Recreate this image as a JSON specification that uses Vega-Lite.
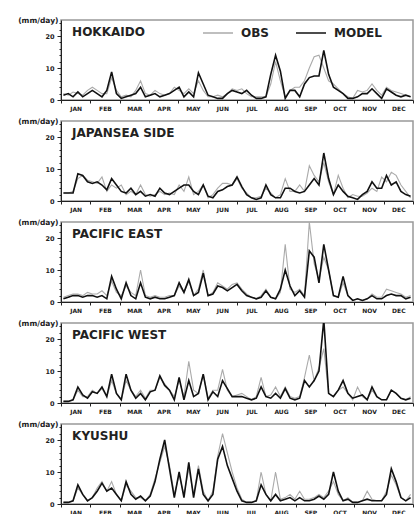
{
"$schema": "https://vega.github.io/schema/vega-lite/v6.json",
"padding": {"left": 16, "top": 15, "right": 0, "bottom": 0},
"background": "white",
"config": {
 "view": {"stroke": "#999999", "strokeWidth": 1.5},
 "axis": {"labelFont": "DejaVu Sans", "labelFontWeight": "bold", "labelColor": "#222222", "domainColor": "#222222", "tickColor": "#222222", "grid": false, "titleFont": "DejaVu Sans", "titleFontWeight": "bold", "titleColor": "#222222"},
 "line": {"clip": true}
},
"datasets": {
"months": [{"m":"JAN"},{"m":"FEB"},{"m":"MAR"},{"m":"APR"},{"m":"MAY"},{"m":"JUN"},{"m":"JUL"},{"m":"AUG"},{"m":"SEP"},{"m":"OCT"},{"m":"NOV"},{"m":"DEC"}],
"d": [
{"r":"HOKKAIDO","p":1,"OBS":2,"MODEL":1.5},{"r":"HOKKAIDO","p":2,"OBS":1.5,"MODEL":2},{"r":"HOKKAIDO","p":3,"OBS":2.5,"MODEL":1},{"r":"HOKKAIDO","p":4,"OBS":2,"MODEL":2.5},{"r":"HOKKAIDO","p":5,"OBS":1.5,"MODEL":1},{"r":"HOKKAIDO","p":6,"OBS":3,"MODEL":2},{"r":"HOKKAIDO","p":7,"OBS":4,"MODEL":3},{"r":"HOKKAIDO","p":8,"OBS":3,"MODEL":2},{"r":"HOKKAIDO","p":9,"OBS":2,"MODEL":1},{"r":"HOKKAIDO","p":10,"OBS":2,"MODEL":3},{"r":"HOKKAIDO","p":11,"OBS":7,"MODEL":8.8},{"r":"HOKKAIDO","p":12,"OBS":3,"MODEL":2},{"r":"HOKKAIDO","p":13,"OBS":1,"MODEL":0.5},{"r":"HOKKAIDO","p":14,"OBS":1.5,"MODEL":1},{"r":"HOKKAIDO","p":15,"OBS":1,"MODEL":1.5},{"r":"HOKKAIDO","p":16,"OBS":3,"MODEL":2},{"r":"HOKKAIDO","p":17,"OBS":6,"MODEL":4},{"r":"HOKKAIDO","p":18,"OBS":2,"MODEL":1},{"r":"HOKKAIDO","p":19,"OBS":1.5,"MODEL":1.5},{"r":"HOKKAIDO","p":20,"OBS":3,"MODEL":2},{"r":"HOKKAIDO","p":21,"OBS":2,"MODEL":1},{"r":"HOKKAIDO","p":22,"OBS":1.5,"MODEL":1.5},{"r":"HOKKAIDO","p":23,"OBS":2,"MODEL":2},{"r":"HOKKAIDO","p":24,"OBS":4,"MODEL":3},{"r":"HOKKAIDO","p":25,"OBS":3,"MODEL":4},{"r":"HOKKAIDO","p":26,"OBS":2,"MODEL":1},{"r":"HOKKAIDO","p":27,"OBS":3.5,"MODEL":2.5},{"r":"HOKKAIDO","p":28,"OBS":2,"MODEL":1},{"r":"HOKKAIDO","p":29,"OBS":6,"MODEL":8.5},{"r":"HOKKAIDO","p":30,"OBS":3,"MODEL":5},{"r":"HOKKAIDO","p":31,"OBS":1,"MODEL":1.5},{"r":"HOKKAIDO","p":32,"OBS":1,"MODEL":1},{"r":"HOKKAIDO","p":33,"OBS":1.5,"MODEL":0.5},{"r":"HOKKAIDO","p":34,"OBS":1,"MODEL":0.5},{"r":"HOKKAIDO","p":35,"OBS":2,"MODEL":2},{"r":"HOKKAIDO","p":36,"OBS":3.5,"MODEL":3},{"r":"HOKKAIDO","p":37,"OBS":3,"MODEL":2.5},{"r":"HOKKAIDO","p":38,"OBS":3.5,"MODEL":2},{"r":"HOKKAIDO","p":39,"OBS":2,"MODEL":3},{"r":"HOKKAIDO","p":40,"OBS":1,"MODEL":1.5},{"r":"HOKKAIDO","p":41,"OBS":1,"MODEL":0.5},{"r":"HOKKAIDO","p":42,"OBS":1,"MODEL":0.5},{"r":"HOKKAIDO","p":43,"OBS":1,"MODEL":1},{"r":"HOKKAIDO","p":44,"OBS":5,"MODEL":8},{"r":"HOKKAIDO","p":45,"OBS":12,"MODEL":14},{"r":"HOKKAIDO","p":46,"OBS":6,"MODEL":9},{"r":"HOKKAIDO","p":47,"OBS":1,"MODEL":0.5},{"r":"HOKKAIDO","p":48,"OBS":3,"MODEL":3},{"r":"HOKKAIDO","p":49,"OBS":4,"MODEL":3},{"r":"HOKKAIDO","p":50,"OBS":4,"MODEL":1},{"r":"HOKKAIDO","p":51,"OBS":6,"MODEL":5},{"r":"HOKKAIDO","p":52,"OBS":10,"MODEL":7},{"r":"HOKKAIDO","p":53,"OBS":13.5,"MODEL":7.5},{"r":"HOKKAIDO","p":54,"OBS":14,"MODEL":7.5},{"r":"HOKKAIDO","p":55,"OBS":10,"MODEL":15.5},{"r":"HOKKAIDO","p":56,"OBS":6,"MODEL":8},{"r":"HOKKAIDO","p":57,"OBS":5,"MODEL":4},{"r":"HOKKAIDO","p":58,"OBS":3.5,"MODEL":3},{"r":"HOKKAIDO","p":59,"OBS":2,"MODEL":2},{"r":"HOKKAIDO","p":60,"OBS":1,"MODEL":0.5},{"r":"HOKKAIDO","p":61,"OBS":0.5,"MODEL":0.5},{"r":"HOKKAIDO","p":62,"OBS":3,"MODEL":1},{"r":"HOKKAIDO","p":63,"OBS":2.5,"MODEL":2},{"r":"HOKKAIDO","p":64,"OBS":3,"MODEL":2},{"r":"HOKKAIDO","p":65,"OBS":5,"MODEL":3.5},{"r":"HOKKAIDO","p":66,"OBS":3,"MODEL":2},{"r":"HOKKAIDO","p":67,"OBS":1.5,"MODEL":0.5},{"r":"HOKKAIDO","p":68,"OBS":4,"MODEL":3.5},{"r":"HOKKAIDO","p":69,"OBS":3,"MODEL":2.5},{"r":"HOKKAIDO","p":70,"OBS":2.5,"MODEL":1.5},{"r":"HOKKAIDO","p":71,"OBS":2,"MODEL":1},{"r":"HOKKAIDO","p":72,"OBS":1.5,"MODEL":1.5},{"r":"HOKKAIDO","p":73,"OBS":1,"MODEL":1},
{"r":"JAPANSEA SIDE","p":1,"OBS":2.5,"MODEL":2.5},{"r":"JAPANSEA SIDE","p":2,"OBS":2.5,"MODEL":2.5},{"r":"JAPANSEA SIDE","p":3,"OBS":3,"MODEL":2.5},{"r":"JAPANSEA SIDE","p":4,"OBS":7,"MODEL":8.5},{"r":"JAPANSEA SIDE","p":5,"OBS":8,"MODEL":8},{"r":"JAPANSEA SIDE","p":6,"OBS":6.5,"MODEL":6},{"r":"JAPANSEA SIDE","p":7,"OBS":6,"MODEL":5.5},{"r":"JAPANSEA SIDE","p":8,"OBS":5.5,"MODEL":6},{"r":"JAPANSEA SIDE","p":9,"OBS":7.5,"MODEL":5},{"r":"JAPANSEA SIDE","p":10,"OBS":3,"MODEL":3.5},{"r":"JAPANSEA SIDE","p":11,"OBS":5,"MODEL":7},{"r":"JAPANSEA SIDE","p":12,"OBS":4,"MODEL":5},{"r":"JAPANSEA SIDE","p":13,"OBS":5,"MODEL":3},{"r":"JAPANSEA SIDE","p":14,"OBS":2,"MODEL":2.5},{"r":"JAPANSEA SIDE","p":15,"OBS":3,"MODEL":4},{"r":"JAPANSEA SIDE","p":16,"OBS":2,"MODEL":2},{"r":"JAPANSEA SIDE","p":17,"OBS":5,"MODEL":3},{"r":"JAPANSEA SIDE","p":18,"OBS":2,"MODEL":1.5},{"r":"JAPANSEA SIDE","p":19,"OBS":1.5,"MODEL":2},{"r":"JAPANSEA SIDE","p":20,"OBS":2,"MODEL":1.5},{"r":"JAPANSEA SIDE","p":21,"OBS":3,"MODEL":4},{"r":"JAPANSEA SIDE","p":22,"OBS":2,"MODEL":2.5},{"r":"JAPANSEA SIDE","p":23,"OBS":2.5,"MODEL":2},{"r":"JAPANSEA SIDE","p":24,"OBS":2,"MODEL":3},{"r":"JAPANSEA SIDE","p":25,"OBS":5,"MODEL":4},{"r":"JAPANSEA SIDE","p":26,"OBS":3,"MODEL":5},{"r":"JAPANSEA SIDE","p":27,"OBS":7.5,"MODEL":5},{"r":"JAPANSEA SIDE","p":28,"OBS":2,"MODEL":3},{"r":"JAPANSEA SIDE","p":29,"OBS":3,"MODEL":2},{"r":"JAPANSEA SIDE","p":30,"OBS":5,"MODEL":5},{"r":"JAPANSEA SIDE","p":31,"OBS":1,"MODEL":1.5},{"r":"JAPANSEA SIDE","p":32,"OBS":2,"MODEL":1},{"r":"JAPANSEA SIDE","p":33,"OBS":4,"MODEL":3},{"r":"JAPANSEA SIDE","p":34,"OBS":5.5,"MODEL":3.5},{"r":"JAPANSEA SIDE","p":35,"OBS":5.5,"MODEL":4.5},{"r":"JAPANSEA SIDE","p":36,"OBS":5,"MODEL":5},{"r":"JAPANSEA SIDE","p":37,"OBS":7,"MODEL":7.5},{"r":"JAPANSEA SIDE","p":38,"OBS":4,"MODEL":4.5},{"r":"JAPANSEA SIDE","p":39,"OBS":2.5,"MODEL":2},{"r":"JAPANSEA SIDE","p":40,"OBS":1,"MODEL":1},{"r":"JAPANSEA SIDE","p":41,"OBS":1,"MODEL":0.5},{"r":"JAPANSEA SIDE","p":42,"OBS":1.5,"MODEL":1},{"r":"JAPANSEA SIDE","p":43,"OBS":4,"MODEL":5},{"r":"JAPANSEA SIDE","p":44,"OBS":2.5,"MODEL":2},{"r":"JAPANSEA SIDE","p":45,"OBS":1,"MODEL":1},{"r":"JAPANSEA SIDE","p":46,"OBS":2,"MODEL":1},{"r":"JAPANSEA SIDE","p":47,"OBS":7,"MODEL":4},{"r":"JAPANSEA SIDE","p":48,"OBS":3,"MODEL":4},{"r":"JAPANSEA SIDE","p":49,"OBS":3,"MODEL":3},{"r":"JAPANSEA SIDE","p":50,"OBS":5,"MODEL":2.5},{"r":"JAPANSEA SIDE","p":51,"OBS":3,"MODEL":3},{"r":"JAPANSEA SIDE","p":52,"OBS":11,"MODEL":5},{"r":"JAPANSEA SIDE","p":53,"OBS":8,"MODEL":7},{"r":"JAPANSEA SIDE","p":54,"OBS":6,"MODEL":5},{"r":"JAPANSEA SIDE","p":55,"OBS":12,"MODEL":15},{"r":"JAPANSEA SIDE","p":56,"OBS":6,"MODEL":7},{"r":"JAPANSEA SIDE","p":57,"OBS":2,"MODEL":2},{"r":"JAPANSEA SIDE","p":58,"OBS":8,"MODEL":5},{"r":"JAPANSEA SIDE","p":59,"OBS":4,"MODEL":3},{"r":"JAPANSEA SIDE","p":60,"OBS":1,"MODEL":1.5},{"r":"JAPANSEA SIDE","p":61,"OBS":2,"MODEL":1},{"r":"JAPANSEA SIDE","p":62,"OBS":1.5,"MODEL":0.5},{"r":"JAPANSEA SIDE","p":63,"OBS":1.5,"MODEL":2},{"r":"JAPANSEA SIDE","p":64,"OBS":2.5,"MODEL":3},{"r":"JAPANSEA SIDE","p":65,"OBS":4,"MODEL":6},{"r":"JAPANSEA SIDE","p":66,"OBS":3,"MODEL":4},{"r":"JAPANSEA SIDE","p":67,"OBS":7.5,"MODEL":4},{"r":"JAPANSEA SIDE","p":68,"OBS":6,"MODEL":8},{"r":"JAPANSEA SIDE","p":69,"OBS":9,"MODEL":5},{"r":"JAPANSEA SIDE","p":70,"OBS":8,"MODEL":6},{"r":"JAPANSEA SIDE","p":71,"OBS":5,"MODEL":3},{"r":"JAPANSEA SIDE","p":72,"OBS":3,"MODEL":2},{"r":"JAPANSEA SIDE","p":73,"OBS":1,"MODEL":1.5},
{"r":"PACIFIC EAST","p":1,"OBS":1.5,"MODEL":1},{"r":"PACIFIC EAST","p":2,"OBS":2,"MODEL":1.5},{"r":"PACIFIC EAST","p":3,"OBS":2.5,"MODEL":2},{"r":"PACIFIC EAST","p":4,"OBS":2.5,"MODEL":2},{"r":"PACIFIC EAST","p":5,"OBS":2,"MODEL":1.5},{"r":"PACIFIC EAST","p":6,"OBS":3,"MODEL":2},{"r":"PACIFIC EAST","p":7,"OBS":2.5,"MODEL":2},{"r":"PACIFIC EAST","p":8,"OBS":2.5,"MODEL":1.5},{"r":"PACIFIC EAST","p":9,"OBS":3.5,"MODEL":2},{"r":"PACIFIC EAST","p":10,"OBS":2,"MODEL":1},{"r":"PACIFIC EAST","p":11,"OBS":6.5,"MODEL":8},{"r":"PACIFIC EAST","p":12,"OBS":3,"MODEL":4},{"r":"PACIFIC EAST","p":13,"OBS":2,"MODEL":1},{"r":"PACIFIC EAST","p":14,"OBS":5,"MODEL":6},{"r":"PACIFIC EAST","p":15,"OBS":3,"MODEL":2},{"r":"PACIFIC EAST","p":16,"OBS":2,"MODEL":1},{"r":"PACIFIC EAST","p":17,"OBS":10,"MODEL":6},{"r":"PACIFIC EAST","p":18,"OBS":2,"MODEL":1.5},{"r":"PACIFIC EAST","p":19,"OBS":1.5,"MODEL":1},{"r":"PACIFIC EAST","p":20,"OBS":2,"MODEL":1.5},{"r":"PACIFIC EAST","p":21,"OBS":1.5,"MODEL":1},{"r":"PACIFIC EAST","p":22,"OBS":1.5,"MODEL":1},{"r":"PACIFIC EAST","p":23,"OBS":2,"MODEL":1.5},{"r":"PACIFIC EAST","p":24,"OBS":2,"MODEL":2},{"r":"PACIFIC EAST","p":25,"OBS":5,"MODEL":6},{"r":"PACIFIC EAST","p":26,"OBS":3,"MODEL":3},{"r":"PACIFIC EAST","p":27,"OBS":6.5,"MODEL":7},{"r":"PACIFIC EAST","p":28,"OBS":2,"MODEL":2},{"r":"PACIFIC EAST","p":29,"OBS":4,"MODEL":3},{"r":"PACIFIC EAST","p":30,"OBS":10,"MODEL":9},{"r":"PACIFIC EAST","p":31,"OBS":2,"MODEL":2},{"r":"PACIFIC EAST","p":32,"OBS":3,"MODEL":2.5},{"r":"PACIFIC EAST","p":33,"OBS":6,"MODEL":5},{"r":"PACIFIC EAST","p":34,"OBS":5,"MODEL":4.5},{"r":"PACIFIC EAST","p":35,"OBS":4,"MODEL":3.5},{"r":"PACIFIC EAST","p":36,"OBS":5.5,"MODEL":4.5},{"r":"PACIFIC EAST","p":37,"OBS":6,"MODEL":5.5},{"r":"PACIFIC EAST","p":38,"OBS":4,"MODEL":3.5},{"r":"PACIFIC EAST","p":39,"OBS":2.5,"MODEL":2},{"r":"PACIFIC EAST","p":40,"OBS":1.5,"MODEL":1.5},{"r":"PACIFIC EAST","p":41,"OBS":1,"MODEL":1},{"r":"PACIFIC EAST","p":42,"OBS":2,"MODEL":1.5},{"r":"PACIFIC EAST","p":43,"OBS":4,"MODEL":3.5},{"r":"PACIFIC EAST","p":44,"OBS":1.5,"MODEL":1.5},{"r":"PACIFIC EAST","p":45,"OBS":1,"MODEL":1},{"r":"PACIFIC EAST","p":46,"OBS":3,"MODEL":4},{"r":"PACIFIC EAST","p":47,"OBS":18,"MODEL":10},{"r":"PACIFIC EAST","p":48,"OBS":4,"MODEL":5},{"r":"PACIFIC EAST","p":49,"OBS":3,"MODEL":2},{"r":"PACIFIC EAST","p":50,"OBS":4,"MODEL":3.5},{"r":"PACIFIC EAST","p":51,"OBS":2,"MODEL":1.5},{"r":"PACIFIC EAST","p":52,"OBS":25,"MODEL":16},{"r":"PACIFIC EAST","p":53,"OBS":12,"MODEL":14},{"r":"PACIFIC EAST","p":54,"OBS":7,"MODEL":6},{"r":"PACIFIC EAST","p":55,"OBS":14,"MODEL":18},{"r":"PACIFIC EAST","p":56,"OBS":10,"MODEL":10},{"r":"PACIFIC EAST","p":57,"OBS":2,"MODEL":2},{"r":"PACIFIC EAST","p":58,"OBS":1.5,"MODEL":1.5},{"r":"PACIFIC EAST","p":59,"OBS":6,"MODEL":8},{"r":"PACIFIC EAST","p":60,"OBS":2,"MODEL":2},{"r":"PACIFIC EAST","p":61,"OBS":0.5,"MODEL":0.5},{"r":"PACIFIC EAST","p":62,"OBS":1,"MODEL":1},{"r":"PACIFIC EAST","p":63,"OBS":0.5,"MODEL":0.5},{"r":"PACIFIC EAST","p":64,"OBS":1,"MODEL":1},{"r":"PACIFIC EAST","p":65,"OBS":2.5,"MODEL":2},{"r":"PACIFIC EAST","p":66,"OBS":1.5,"MODEL":1},{"r":"PACIFIC EAST","p":67,"OBS":1.5,"MODEL":1},{"r":"PACIFIC EAST","p":68,"OBS":4,"MODEL":2},{"r":"PACIFIC EAST","p":69,"OBS":3.5,"MODEL":2.5},{"r":"PACIFIC EAST","p":70,"OBS":3,"MODEL":2},{"r":"PACIFIC EAST","p":71,"OBS":2.5,"MODEL":2},{"r":"PACIFIC EAST","p":72,"OBS":1.5,"MODEL":1},{"r":"PACIFIC EAST","p":73,"OBS":2,"MODEL":1.5},
{"r":"PACIFIC WEST","p":1,"OBS":0.5,"MODEL":0.5},{"r":"PACIFIC WEST","p":2,"OBS":0.5,"MODEL":0.5},{"r":"PACIFIC WEST","p":3,"OBS":1,"MODEL":1},{"r":"PACIFIC WEST","p":4,"OBS":4,"MODEL":5},{"r":"PACIFIC WEST","p":5,"OBS":2,"MODEL":2.5},{"r":"PACIFIC WEST","p":6,"OBS":2,"MODEL":1.5},{"r":"PACIFIC WEST","p":7,"OBS":4,"MODEL":3.5},{"r":"PACIFIC WEST","p":8,"OBS":3,"MODEL":3},{"r":"PACIFIC WEST","p":9,"OBS":4.5,"MODEL":5},{"r":"PACIFIC WEST","p":10,"OBS":2,"MODEL":2},{"r":"PACIFIC WEST","p":11,"OBS":7,"MODEL":9},{"r":"PACIFIC WEST","p":12,"OBS":3,"MODEL":3},{"r":"PACIFIC WEST","p":13,"OBS":1,"MODEL":1},{"r":"PACIFIC WEST","p":14,"OBS":7,"MODEL":9},{"r":"PACIFIC WEST","p":15,"OBS":4,"MODEL":4},{"r":"PACIFIC WEST","p":16,"OBS":2,"MODEL":1.5},{"r":"PACIFIC WEST","p":17,"OBS":4,"MODEL":3},{"r":"PACIFIC WEST","p":18,"OBS":1.5,"MODEL":1},{"r":"PACIFIC WEST","p":19,"OBS":4,"MODEL":3.5},{"r":"PACIFIC WEST","p":20,"OBS":4,"MODEL":4},{"r":"PACIFIC WEST","p":21,"OBS":8,"MODEL":8.5},{"r":"PACIFIC WEST","p":22,"OBS":6,"MODEL":5.5},{"r":"PACIFIC WEST","p":23,"OBS":4,"MODEL":4},{"r":"PACIFIC WEST","p":24,"OBS":2,"MODEL":1},{"r":"PACIFIC WEST","p":25,"OBS":7,"MODEL":8},{"r":"PACIFIC WEST","p":26,"OBS":2,"MODEL":1},{"r":"PACIFIC WEST","p":27,"OBS":13,"MODEL":7},{"r":"PACIFIC WEST","p":28,"OBS":4,"MODEL":2},{"r":"PACIFIC WEST","p":29,"OBS":3,"MODEL":3},{"r":"PACIFIC WEST","p":30,"OBS":9,"MODEL":9},{"r":"PACIFIC WEST","p":31,"OBS":1.5,"MODEL":1},{"r":"PACIFIC WEST","p":32,"OBS":4,"MODEL":3.5},{"r":"PACIFIC WEST","p":33,"OBS":4,"MODEL":2},{"r":"PACIFIC WEST","p":34,"OBS":10.5,"MODEL":7},{"r":"PACIFIC WEST","p":35,"OBS":4,"MODEL":4.5},{"r":"PACIFIC WEST","p":36,"OBS":2,"MODEL":2},{"r":"PACIFIC WEST","p":37,"OBS":2.5,"MODEL":2},{"r":"PACIFIC WEST","p":38,"OBS":3,"MODEL":2},{"r":"PACIFIC WEST","p":39,"OBS":2,"MODEL":1.5},{"r":"PACIFIC WEST","p":40,"OBS":1,"MODEL":1},{"r":"PACIFIC WEST","p":41,"OBS":2,"MODEL":1.5},{"r":"PACIFIC WEST","p":42,"OBS":8,"MODEL":5},{"r":"PACIFIC WEST","p":43,"OBS":2,"MODEL":2},{"r":"PACIFIC WEST","p":44,"OBS":2.5,"MODEL":1.5},{"r":"PACIFIC WEST","p":45,"OBS":5,"MODEL":3},{"r":"PACIFIC WEST","p":46,"OBS":2,"MODEL":1.5},{"r":"PACIFIC WEST","p":47,"OBS":5,"MODEL":4.5},{"r":"PACIFIC WEST","p":48,"OBS":2,"MODEL":1.5},{"r":"PACIFIC WEST","p":49,"OBS":1.5,"MODEL":1},{"r":"PACIFIC WEST","p":50,"OBS":2,"MODEL":1.5},{"r":"PACIFIC WEST","p":51,"OBS":8,"MODEL":7},{"r":"PACIFIC WEST","p":52,"OBS":15,"MODEL":5},{"r":"PACIFIC WEST","p":53,"OBS":7,"MODEL":7},{"r":"PACIFIC WEST","p":54,"OBS":11,"MODEL":10},{"r":"PACIFIC WEST","p":55,"OBS":17,"MODEL":26},{"r":"PACIFIC WEST","p":56,"OBS":3,"MODEL":3},{"r":"PACIFIC WEST","p":57,"OBS":2,"MODEL":2},{"r":"PACIFIC WEST","p":58,"OBS":4,"MODEL":4},{"r":"PACIFIC WEST","p":59,"OBS":5,"MODEL":7},{"r":"PACIFIC WEST","p":60,"OBS":3,"MODEL":3},{"r":"PACIFIC WEST","p":61,"OBS":1,"MODEL":1.5},{"r":"PACIFIC WEST","p":62,"OBS":5,"MODEL":2},{"r":"PACIFIC WEST","p":63,"OBS":2,"MODEL":2.5},{"r":"PACIFIC WEST","p":64,"OBS":1,"MODEL":1},{"r":"PACIFIC WEST","p":65,"OBS":4,"MODEL":5},{"r":"PACIFIC WEST","p":66,"OBS":2,"MODEL":2},{"r":"PACIFIC WEST","p":67,"OBS":1,"MODEL":1},{"r":"PACIFIC WEST","p":68,"OBS":1,"MODEL":1},{"r":"PACIFIC WEST","p":69,"OBS":4,"MODEL":4},{"r":"PACIFIC WEST","p":70,"OBS":3,"MODEL":3},{"r":"PACIFIC WEST","p":71,"OBS":1.5,"MODEL":1.5},{"r":"PACIFIC WEST","p":72,"OBS":1,"MODEL":1},{"r":"PACIFIC WEST","p":73,"OBS":2,"MODEL":1.5},
{"r":"KYUSHU","p":1,"OBS":0.5,"MODEL":0.5},{"r":"KYUSHU","p":2,"OBS":0.5,"MODEL":0.5},{"r":"KYUSHU","p":3,"OBS":1,"MODEL":1},{"r":"KYUSHU","p":4,"OBS":5,"MODEL":6},{"r":"KYUSHU","p":5,"OBS":3,"MODEL":3},{"r":"KYUSHU","p":6,"OBS":1,"MODEL":1},{"r":"KYUSHU","p":7,"OBS":2,"MODEL":2},{"r":"KYUSHU","p":8,"OBS":5,"MODEL":4},{"r":"KYUSHU","p":9,"OBS":7,"MODEL":6.5},{"r":"KYUSHU","p":10,"OBS":4,"MODEL":4},{"r":"KYUSHU","p":11,"OBS":7,"MODEL":5},{"r":"KYUSHU","p":12,"OBS":3,"MODEL":3},{"r":"KYUSHU","p":13,"OBS":1,"MODEL":1},{"r":"KYUSHU","p":14,"OBS":6,"MODEL":7},{"r":"KYUSHU","p":15,"OBS":4,"MODEL":3},{"r":"KYUSHU","p":16,"OBS":2,"MODEL":1.5},{"r":"KYUSHU","p":17,"OBS":2,"MODEL":2.5},{"r":"KYUSHU","p":18,"OBS":1,"MODEL":1},{"r":"KYUSHU","p":19,"OBS":3,"MODEL":2.5},{"r":"KYUSHU","p":20,"OBS":8,"MODEL":7},{"r":"KYUSHU","p":21,"OBS":13,"MODEL":14},{"r":"KYUSHU","p":22,"OBS":18,"MODEL":20},{"r":"KYUSHU","p":23,"OBS":12,"MODEL":11},{"r":"KYUSHU","p":24,"OBS":3,"MODEL":2},{"r":"KYUSHU","p":25,"OBS":9,"MODEL":10},{"r":"KYUSHU","p":26,"OBS":3,"MODEL":2},{"r":"KYUSHU","p":27,"OBS":11,"MODEL":13},{"r":"KYUSHU","p":28,"OBS":3,"MODEL":2},{"r":"KYUSHU","p":29,"OBS":12,"MODEL":11},{"r":"KYUSHU","p":30,"OBS":4,"MODEL":3},{"r":"KYUSHU","p":31,"OBS":1,"MODEL":1},{"r":"KYUSHU","p":32,"OBS":4,"MODEL":3},{"r":"KYUSHU","p":33,"OBS":15,"MODEL":14},{"r":"KYUSHU","p":34,"OBS":22,"MODEL":18},{"r":"KYUSHU","p":35,"OBS":16,"MODEL":12},{"r":"KYUSHU","p":36,"OBS":10,"MODEL":8},{"r":"KYUSHU","p":37,"OBS":5,"MODEL":4},{"r":"KYUSHU","p":38,"OBS":1.5,"MODEL":1},{"r":"KYUSHU","p":39,"OBS":0.5,"MODEL":0.5},{"r":"KYUSHU","p":40,"OBS":0.5,"MODEL":0.5},{"r":"KYUSHU","p":41,"OBS":1,"MODEL":1},{"r":"KYUSHU","p":42,"OBS":10,"MODEL":6},{"r":"KYUSHU","p":43,"OBS":3,"MODEL":3},{"r":"KYUSHU","p":44,"OBS":1,"MODEL":1},{"r":"KYUSHU","p":45,"OBS":10,"MODEL":3},{"r":"KYUSHU","p":46,"OBS":1.5,"MODEL":1},{"r":"KYUSHU","p":47,"OBS":2,"MODEL":1.5},{"r":"KYUSHU","p":48,"OBS":3,"MODEL":2},{"r":"KYUSHU","p":49,"OBS":1.5,"MODEL":1},{"r":"KYUSHU","p":50,"OBS":4,"MODEL":2},{"r":"KYUSHU","p":51,"OBS":1.5,"MODEL":1},{"r":"KYUSHU","p":52,"OBS":1.5,"MODEL":1},{"r":"KYUSHU","p":53,"OBS":2,"MODEL":1.5},{"r":"KYUSHU","p":54,"OBS":3,"MODEL":2.5},{"r":"KYUSHU","p":55,"OBS":2,"MODEL":1.5},{"r":"KYUSHU","p":56,"OBS":4,"MODEL":3},{"r":"KYUSHU","p":57,"OBS":7,"MODEL":10},{"r":"KYUSHU","p":58,"OBS":3,"MODEL":4},{"r":"KYUSHU","p":59,"OBS":1,"MODEL":1},{"r":"KYUSHU","p":60,"OBS":2,"MODEL":1.5},{"r":"KYUSHU","p":61,"OBS":0.5,"MODEL":0.5},{"r":"KYUSHU","p":62,"OBS":0.5,"MODEL":0.5},{"r":"KYUSHU","p":63,"OBS":1,"MODEL":1},{"r":"KYUSHU","p":64,"OBS":4,"MODEL":1.5},{"r":"KYUSHU","p":65,"OBS":1.5,"MODEL":1},{"r":"KYUSHU","p":66,"OBS":1,"MODEL":1},{"r":"KYUSHU","p":67,"OBS":1,"MODEL":1},{"r":"KYUSHU","p":68,"OBS":4,"MODEL":3},{"r":"KYUSHU","p":69,"OBS":9,"MODEL":11},{"r":"KYUSHU","p":70,"OBS":6,"MODEL":7},{"r":"KYUSHU","p":71,"OBS":2,"MODEL":2},{"r":"KYUSHU","p":72,"OBS":1,"MODEL":1},{"r":"KYUSHU","p":73,"OBS":3,"MODEL":2}
]
},
"spacing": 4,
"resolve": {"legend": {"color": "independent"}},
"vconcat": [
{"width": 352, "height": 80, "resolve": {"scale": {"x": "independent"}, "axis": {"y": "independent"}},
 "layer": [
  {"data": {"name": "d"}, "transform": [{"filter": "datum.r === 'HOKKAIDO'"}, {"fold": ["OBS", "MODEL"], "as": ["s", "v"]}],
   "mark": {"type": "line", "clip": true},
   "encoding": {
    "x": {"field": "p", "type": "quantitative", "scale": {"domain": [0.5, 73.5], "nice": false, "zero": false}, "axis": null},
    "y": {"field": "v", "type": "quantitative", "scale": {"domain": [0, 25], "nice": false}, "axis": {"orient": "left", "title": "(mm/day)", "titleAngle": 0, "titleAlign": "right", "titleBaseline": "middle", "titleX": -3, "titleY": 0, "titleFontSize": 7.5, "values": [0, 10, 20], "tickSize": 4, "labelFontSize": 6.5, "labelPadding": 3}},
    "color": {"field": "s", "type": "nominal", "scale": {"domain": ["OBS", "MODEL"], "range": ["#aaaaaa", "#111111"]}, "legend": {"orient": "none", "legendX": 141, "legendY": -3, "direction": "horizontal", "title": null, "symbolType": "stroke", "symbolSize": 900, "symbolStrokeWidth": 1.5, "labelFont": "DejaVu Sans", "labelFontWeight": "bold", "labelFontSize": 12, "labelColor": "#222222", "columnPadding": 24, "labelOffset": 7, "padding": 0}},
    "strokeWidth": {"field": "s", "type": "nominal", "scale": {"domain": ["OBS", "MODEL"], "range": [1.1, 1.6]}, "legend": null}
   }},
  {"data": {"name": "months"}, "mark": {"type": "bar", "opacity": 0},
   "encoding": {"x": {"field": "m", "type": "ordinal", "sort": null, "scale": {"paddingInner": 0, "paddingOuter": 0}, "axis": {"orient": "bottom", "title": null, "tickBand": "extent", "labelAngle": 0, "labelFontSize": 6, "labelPadding": 2, "tickSize": 3}}}},
  {"data": {"values": [{"t": "HOKKAIDO"}]},
   "mark": {"type": "text", "align": "left", "baseline": "middle", "font": "DejaVu Sans", "fontWeight": "bold", "fontSize": 12, "color": "#222222"},
   "encoding": {"x": {"datum": 2.8, "type": "quantitative", "scale": {"domain": [0.5, 73.5], "nice": false, "zero": false}, "axis": null}, "y": {"datum": 21.3, "type": "quantitative", "axis": {"orient": "left", "title": null, "values": [2, 4, 6, 8, 12, 14, 16, 18, 22, 24], "labels": false, "tickSize": 2, "domain": false}}, "text": {"field": "t"}}}
 ]},
{"width": 352, "height": 80, "resolve": {"scale": {"x": "independent"}, "axis": {"y": "independent"}},
 "layer": [
  {"data": {"name": "d"}, "transform": [{"filter": "datum.r === 'JAPANSEA SIDE'"}, {"fold": ["OBS", "MODEL"], "as": ["s", "v"]}],
   "mark": {"type": "line", "clip": true},
   "encoding": {
    "x": {"field": "p", "type": "quantitative", "scale": {"domain": [0.5, 73.5], "nice": false, "zero": false}, "axis": null},
    "y": {"field": "v", "type": "quantitative", "scale": {"domain": [0, 25], "nice": false}, "axis": {"orient": "left", "title": "(mm/day)", "titleAngle": 0, "titleAlign": "right", "titleBaseline": "middle", "titleX": -3, "titleY": 0, "titleFontSize": 7.5, "values": [0, 10, 20], "tickSize": 4, "labelFontSize": 6.5, "labelPadding": 3}},
    "color": {"field": "s", "type": "nominal", "scale": {"domain": ["OBS", "MODEL"], "range": ["#aaaaaa", "#111111"]}, "legend": null},
    "strokeWidth": {"field": "s", "type": "nominal", "scale": {"domain": ["OBS", "MODEL"], "range": [1.1, 1.6]}, "legend": null}
   }},
  {"data": {"name": "months"}, "mark": {"type": "bar", "opacity": 0},
   "encoding": {"x": {"field": "m", "type": "ordinal", "sort": null, "scale": {"paddingInner": 0, "paddingOuter": 0}, "axis": {"orient": "bottom", "title": null, "tickBand": "extent", "labelAngle": 0, "labelFontSize": 6, "labelPadding": 2, "tickSize": 3}}}},
  {"data": {"values": [{"t": "JAPANSEA SIDE"}]},
   "mark": {"type": "text", "align": "left", "baseline": "middle", "font": "DejaVu Sans", "fontWeight": "bold", "fontSize": 12, "color": "#222222"},
   "encoding": {"x": {"datum": 2.8, "type": "quantitative", "scale": {"domain": [0.5, 73.5], "nice": false, "zero": false}, "axis": null}, "y": {"datum": 21.3, "type": "quantitative", "axis": {"orient": "left", "title": null, "values": [2, 4, 6, 8, 12, 14, 16, 18, 22, 24], "labels": false, "tickSize": 2, "domain": false}}, "text": {"field": "t"}}}
 ]},
{"width": 352, "height": 80, "resolve": {"scale": {"x": "independent"}, "axis": {"y": "independent"}},
 "layer": [
  {"data": {"name": "d"}, "transform": [{"filter": "datum.r === 'PACIFIC EAST'"}, {"fold": ["OBS", "MODEL"], "as": ["s", "v"]}],
   "mark": {"type": "line", "clip": true},
   "encoding": {
    "x": {"field": "p", "type": "quantitative", "scale": {"domain": [0.5, 73.5], "nice": false, "zero": false}, "axis": null},
    "y": {"field": "v", "type": "quantitative", "scale": {"domain": [0, 25], "nice": false}, "axis": {"orient": "left", "title": "(mm/day)", "titleAngle": 0, "titleAlign": "right", "titleBaseline": "middle", "titleX": -3, "titleY": 0, "titleFontSize": 7.5, "values": [0, 10, 20], "tickSize": 4, "labelFontSize": 6.5, "labelPadding": 3}},
    "color": {"field": "s", "type": "nominal", "scale": {"domain": ["OBS", "MODEL"], "range": ["#aaaaaa", "#111111"]}, "legend": null},
    "strokeWidth": {"field": "s", "type": "nominal", "scale": {"domain": ["OBS", "MODEL"], "range": [1.1, 1.6]}, "legend": null}
   }},
  {"data": {"name": "months"}, "mark": {"type": "bar", "opacity": 0},
   "encoding": {"x": {"field": "m", "type": "ordinal", "sort": null, "scale": {"paddingInner": 0, "paddingOuter": 0}, "axis": {"orient": "bottom", "title": null, "tickBand": "extent", "labelAngle": 0, "labelFontSize": 6, "labelPadding": 2, "tickSize": 3}}}},
  {"data": {"values": [{"t": "PACIFIC EAST"}]},
   "mark": {"type": "text", "align": "left", "baseline": "middle", "font": "DejaVu Sans", "fontWeight": "bold", "fontSize": 12, "color": "#222222"},
   "encoding": {"x": {"datum": 2.8, "type": "quantitative", "scale": {"domain": [0.5, 73.5], "nice": false, "zero": false}, "axis": null}, "y": {"datum": 21.3, "type": "quantitative", "axis": {"orient": "left", "title": null, "values": [2, 4, 6, 8, 12, 14, 16, 18, 22, 24], "labels": false, "tickSize": 2, "domain": false}}, "text": {"field": "t"}}}
 ]},
{"width": 352, "height": 80, "resolve": {"scale": {"x": "independent"}, "axis": {"y": "independent"}},
 "layer": [
  {"data": {"name": "d"}, "transform": [{"filter": "datum.r === 'PACIFIC WEST'"}, {"fold": ["OBS", "MODEL"], "as": ["s", "v"]}],
   "mark": {"type": "line", "clip": true},
   "encoding": {
    "x": {"field": "p", "type": "quantitative", "scale": {"domain": [0.5, 73.5], "nice": false, "zero": false}, "axis": null},
    "y": {"field": "v", "type": "quantitative", "scale": {"domain": [0, 25], "nice": false}, "axis": {"orient": "left", "title": "(mm/day)", "titleAngle": 0, "titleAlign": "right", "titleBaseline": "middle", "titleX": -3, "titleY": 0, "titleFontSize": 7.5, "values": [0, 10, 20], "tickSize": 4, "labelFontSize": 6.5, "labelPadding": 3}},
    "color": {"field": "s", "type": "nominal", "scale": {"domain": ["OBS", "MODEL"], "range": ["#aaaaaa", "#111111"]}, "legend": null},
    "strokeWidth": {"field": "s", "type": "nominal", "scale": {"domain": ["OBS", "MODEL"], "range": [1.1, 1.6]}, "legend": null}
   }},
  {"data": {"name": "months"}, "mark": {"type": "bar", "opacity": 0},
   "encoding": {"x": {"field": "m", "type": "ordinal", "sort": null, "scale": {"paddingInner": 0, "paddingOuter": 0}, "axis": {"orient": "bottom", "title": null, "tickBand": "extent", "labelAngle": 0, "labelFontSize": 6, "labelPadding": 2, "tickSize": 3}}}},
  {"data": {"values": [{"t": "PACIFIC WEST"}]},
   "mark": {"type": "text", "align": "left", "baseline": "middle", "font": "DejaVu Sans", "fontWeight": "bold", "fontSize": 12, "color": "#222222"},
   "encoding": {"x": {"datum": 2.8, "type": "quantitative", "scale": {"domain": [0.5, 73.5], "nice": false, "zero": false}, "axis": null}, "y": {"datum": 21.3, "type": "quantitative", "axis": {"orient": "left", "title": null, "values": [2, 4, 6, 8, 12, 14, 16, 18, 22, 24], "labels": false, "tickSize": 2, "domain": false}}, "text": {"field": "t"}}}
 ]},
{"width": 352, "height": 80, "resolve": {"scale": {"x": "independent"}, "axis": {"y": "independent"}},
 "layer": [
  {"data": {"name": "d"}, "transform": [{"filter": "datum.r === 'KYUSHU'"}, {"fold": ["OBS", "MODEL"], "as": ["s", "v"]}],
   "mark": {"type": "line", "clip": true},
   "encoding": {
    "x": {"field": "p", "type": "quantitative", "scale": {"domain": [0.5, 73.5], "nice": false, "zero": false}, "axis": null},
    "y": {"field": "v", "type": "quantitative", "scale": {"domain": [0, 25], "nice": false}, "axis": {"orient": "left", "title": "(mm/day)", "titleAngle": 0, "titleAlign": "right", "titleBaseline": "middle", "titleX": -3, "titleY": 0, "titleFontSize": 7.5, "values": [0, 10, 20], "tickSize": 4, "labelFontSize": 6.5, "labelPadding": 3}},
    "color": {"field": "s", "type": "nominal", "scale": {"domain": ["OBS", "MODEL"], "range": ["#aaaaaa", "#111111"]}, "legend": null},
    "strokeWidth": {"field": "s", "type": "nominal", "scale": {"domain": ["OBS", "MODEL"], "range": [1.1, 1.6]}, "legend": null}
   }},
  {"data": {"name": "months"}, "mark": {"type": "bar", "opacity": 0},
   "encoding": {"x": {"field": "m", "type": "ordinal", "sort": null, "scale": {"paddingInner": 0, "paddingOuter": 0}, "axis": {"orient": "bottom", "title": null, "tickBand": "extent", "labelAngle": 0, "labelFontSize": 6, "labelPadding": 2, "tickSize": 3}}}},
  {"data": {"values": [{"t": "KYUSHU"}]},
   "mark": {"type": "text", "align": "left", "baseline": "middle", "font": "DejaVu Sans", "fontWeight": "bold", "fontSize": 12, "color": "#222222"},
   "encoding": {"x": {"datum": 2.8, "type": "quantitative", "scale": {"domain": [0.5, 73.5], "nice": false, "zero": false}, "axis": null}, "y": {"datum": 21.3, "type": "quantitative", "axis": {"orient": "left", "title": null, "values": [2, 4, 6, 8, 12, 14, 16, 18, 22, 24], "labels": false, "tickSize": 2, "domain": false}}, "text": {"field": "t"}}}
 ]}
]
}
